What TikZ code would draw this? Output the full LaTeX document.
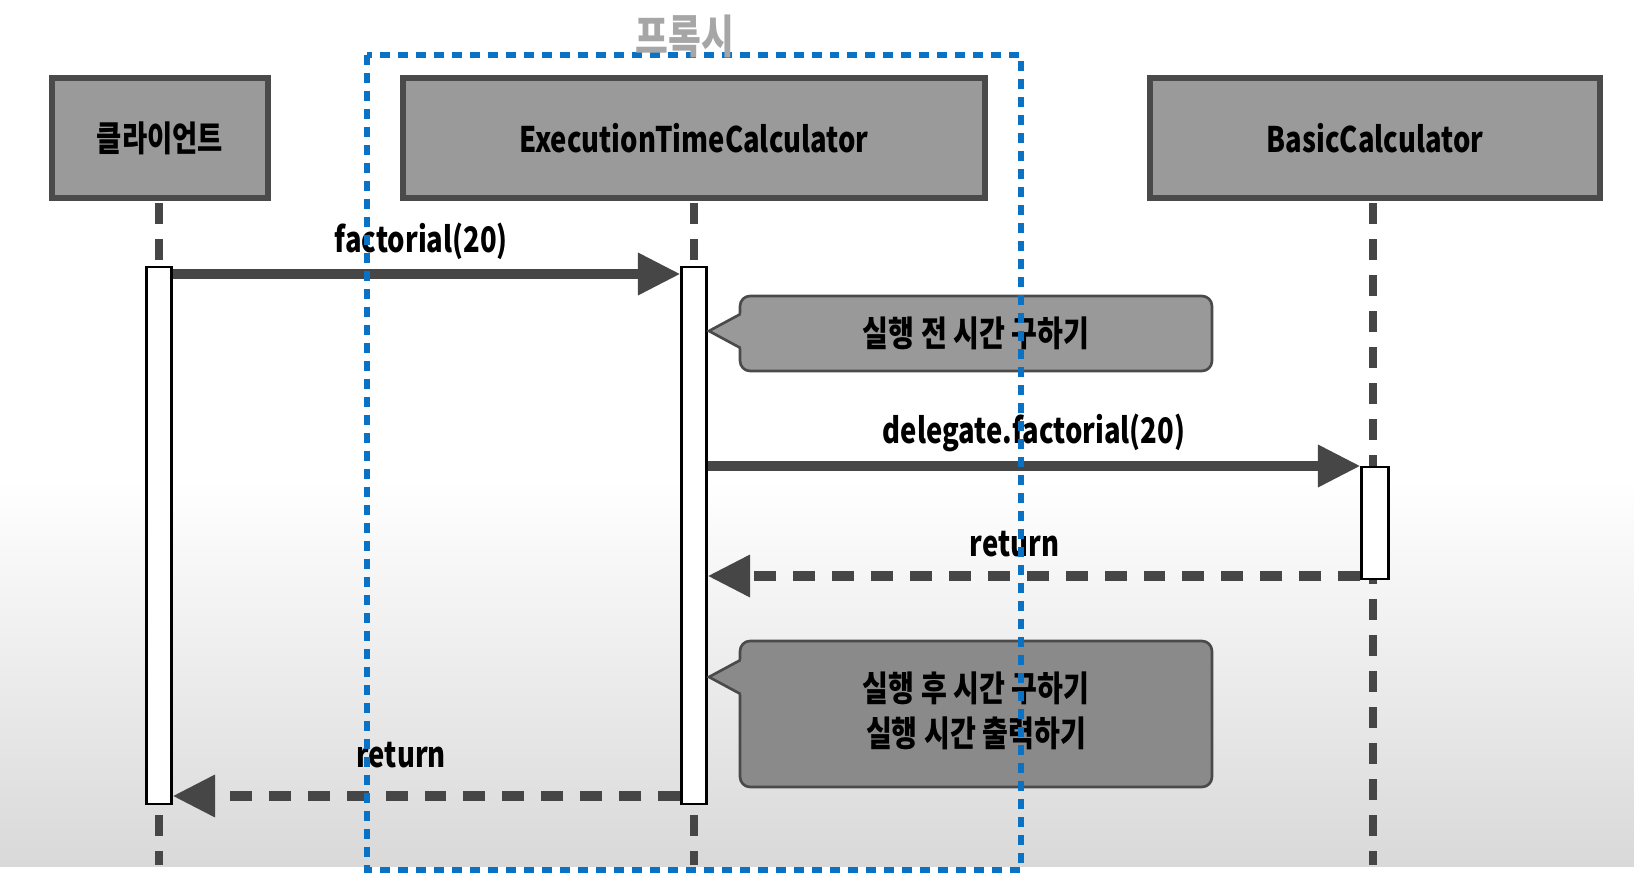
\documentclass[tikz,border=0pt]{standalone}
\usepackage{fontspec}
\setmainfont{Noto Sans CJK KR}[FakeStretch=0.78]
\newfontfamily\notefont{Noto Sans CJK KR}[FakeStretch=0.8]
\usetikzlibrary{positioning,arrows.meta}

\definecolor{boxgray}{HTML}{9A9A9A}
\definecolor{edgegray}{HTML}{4A4A4A}
\definecolor{linegray}{HTML}{464646}
\definecolor{notegray}{HTML}{999999}
\definecolor{notegraydk}{HTML}{8A8A8A}
\definecolor{proxyblue}{HTML}{0A72C4}

\tikzset{
  actor/.style={draw=edgegray, line width=3pt, fill=boxgray, minimum height=2.4cm, inner sep=0pt},
  lifeline/.style={draw=linegray, line width=4.5pt, dash pattern=on 0.42cm off 0.3cm},
  activation/.style={draw=black, line width=1.2pt, fill=white, minimum width=0.5cm, inner sep=0pt},
  call/.style={draw=linegray, line width=5.5pt, -{Triangle[length=0.85cm,width=0.8cm]}},
  reply/.style={call, dash pattern=on 0.44cm off 0.34cm},
  note/.style={draw=edgegray, line width=1.5pt, rounded corners=0.2cm, minimum width=9.44cm,
    align=center, font=\notefont\bfseries\fontsize{20}{25.5}\selectfont},
  msglabel/.style={inner sep=0pt, anchor=base}
}

\begin{document}
\begin{tikzpicture}[x=0.02cm, y=-0.02cm, font=\bfseries\fontsize{20}{26}\selectfont]
  \useasboundingbox (0,0) rectangle (1634,874);
  % ---- background ----
  \fill[white] (0,0) rectangle (1634,874);
  \shade[top color=white, bottom color=gray!30] (0,480) rectangle (1634,866);

  % ---- participants ----
  \node[actor, minimum width=4.32cm] (client) at (160,138) {클라이언트};
  \node[actor, minimum width=11.64cm] (timer) at (694,138) {ExecutionTimeCalculator};
  \node[actor, minimum width=9cm] (basic) at (1375,138) {BasicCalculator};

  % ---- lifelines ----
  \coordinate (clientEnd) at (159,865);
  \coordinate (timerEnd) at (694,865);
  \coordinate (basicEnd) at (1373,865);
  \draw[lifeline] ([yshift=-1.5pt]client.south -| clientEnd) -- (clientEnd);
  \draw[lifeline] ([yshift=-1.5pt]timer.south) -- (timerEnd);
  \draw[lifeline] ([yshift=-1.5pt]basic.south -| basicEnd) -- (basicEnd);

  % ---- activations ----
  \node[activation, minimum height=10.74cm] (actClient) at (159,535.5) {};
  \node[activation, minimum height=10.74cm] (actTimer) at (694,535.5) {};
  \node[activation, minimum height=2.24cm, minimum width=0.54cm] (actBasic) at (1375,523) {};

  % ---- messages ----
  \draw[call] (actClient.east |- 0,274) -- (actTimer.west |- 0,274)
    node[msglabel, pos=.49, yshift=12pt] {factorial(20)};
  \draw[call] (actTimer.east |- 0,466) -- (actBasic.west |- 0,466)
    node[msglabel, midway, yshift=13pt] {delegate.factorial(20)};
  \draw[reply] (actBasic.west |- 0,576) -- (actTimer.east |- 0,576)
    node[msglabel, pos=.53, yshift=11pt] {return};
  \draw[reply] (actTimer.west |- 0,796) -- (actClient.east |- 0,796)
    node[msglabel, pos=.55, yshift=16pt] {return};

  % ---- notes ----
  \node[note, fill=notegray, minimum height=1.5cm] (before) at (976,333.5) {실행 전 시간 구하기};
  \fill[notegray] (742.5,313) -- (709,331) -- (742.5,349) -- cycle;
  \draw[edgegray, line width=1.5pt] (740.5,314) -- (709,331) -- (740.5,348);

  \node[note, fill=notegraydk, minimum height=2.92cm] (after) at (976,714) {};
  \node (afterText) at ([yshift=2pt]after.center)
    [align=center, font=\notefont\bfseries\fontsize{20}{25.5}\selectfont]
    {실행 후 시간 구하기\\실행 시간 출력하기};
  \fill[notegraydk] (742.5,659) -- (709,677) -- (742.5,695) -- cycle;
  \draw[edgegray, line width=1.5pt] (740.5,660) -- (709,677) -- (740.5,694);

  % ---- proxy frame ----
  \draw[proxyblue, line width=3pt, dash pattern=on 0.2cm off 0.16cm] (367,55) rectangle (1021,870);
  \node[gray!70, font=\bfseries\fontsize{26}{30}\selectfont] (proxy) at (685,36) {프록시};
\end{tikzpicture}
\end{document}
